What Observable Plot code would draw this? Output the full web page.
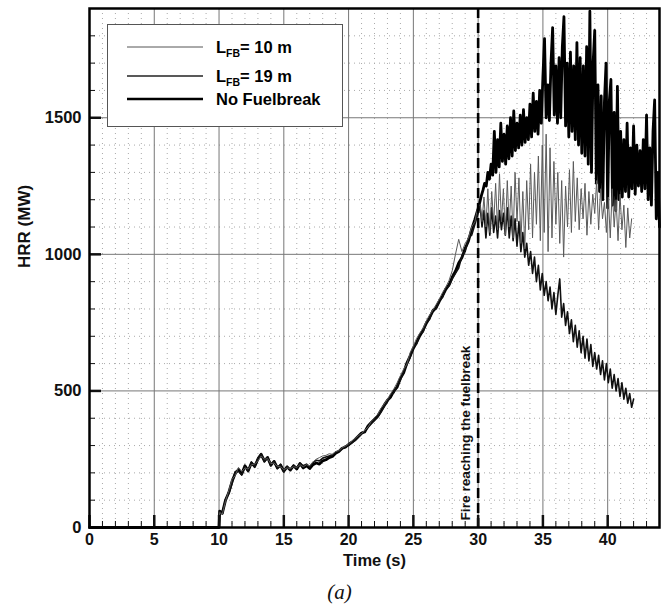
<!DOCTYPE html>
<html>
<head>
<meta charset="utf-8">
<script src="https://cdn.jsdelivr.net/npm/d3@7"></script>
<script src="https://cdn.jsdelivr.net/npm/@observablehq/plot@0.6"></script>
<style>
  body { margin: 0; background: white; }
  #wrap { position: relative; width: 671px; }
  #legend { position: absolute; left: 107px; top: 24px; }
  #caption { width: 671px; text-align: center; font-family: "Liberation Serif", "Times New Roman", serif; font-style: italic; font-size: 21px; line-height: 34px; color: #111; transform: translateX(4px); }
</style>
</head>
<body>
<div id="wrap">
  <div id="chart"></div>
  <svg id="legend" width="237" height="104" font-family="Liberation Sans, Arial, sans-serif" font-weight="bold" font-size="16.5">
    <rect x="0.5" y="0.5" width="235" height="102" fill="white" stroke="#555" stroke-width="1"></rect>
    <line x1="20" x2="96" y1="23" y2="23" stroke="#555" stroke-width="1"></line>
    <line x1="20" x2="96" y1="52" y2="52" stroke="#222" stroke-width="1.3"></line>
    <line x1="20" x2="96" y1="75" y2="75" stroke="#000" stroke-width="2.6"></line>
    <text x="109" y="29"><tspan>L</tspan><tspan font-size="10.5" dy="4">FB</tspan><tspan dy="-4">= 10 m</tspan></text>
    <text x="109" y="58"><tspan>L</tspan><tspan font-size="10.5" dy="4">FB</tspan><tspan dy="-4">= 19 m</tspan></text>
    <text x="109" y="81">No Fuelbreak</text>
  </svg>
</div>
<div id="caption">(a)</div>
<script>
// ---------- data ----------
const xTicks = [0, 5, 10, 15, 20, 25, 30, 35, 40];
const xMinor = [1,2,3,4,6,7,8,9,11,12,13,14,16,17,18,19,21,22,23,24,26,27,28,29,31,32,33,34,36,37,38,39,41,42,43];
const yTicks = [0, 500, 1000, 1500];
const yMinor = [100,200,300,400,600,700,800,900,1100,1200,1300,1400,1600,1700,1800];
const xLabel = "Time (s)";
const yLabel = "HRR (MW)";
const fuelbreakTime = [30];
const fuelbreakText = "Fire reaching the fuelbreak";

// common time base before the fire reaches the fuelbreak
const timePre = [0, 10, 10.05,
  10.25, 10.5, 10.75, 11, 11.25, 11.5, 11.75, 12,
  12.25, 12.5, 12.75, 13, 13.25, 13.5, 13.75, 14,
  14.25, 14.5, 14.75, 15, 15.25, 15.5, 15.75, 16,
  16.25, 16.5, 16.75, 17, 17.25, 17.5, 17.75, 18,
  18.25, 18.5, 18.75, 19, 19.25, 19.5, 19.75, 20,
  20.25, 20.5, 20.75, 21, 21.25, 21.5, 21.75, 22,
  22.25, 22.5, 22.75, 23, 23.25, 23.5, 23.75, 24,
  24.25, 24.5, 24.75, 25, 25.25, 25.5, 25.75, 26,
  26.25, 26.5, 26.75, 27, 27.25, 27.5, 27.75, 28,
  28.25, 28.5, 28.75, 29, 29.25, 29.5, 29.75, 30];

const hrrNoPre = [0, 0, 60,
  52, 100, 128, 168, 198, 212, 196, 226,
  208, 236, 224, 250, 268, 244, 256, 228,
  242, 218, 228, 206, 222, 210, 226, 214,
  234, 218, 226, 216, 230, 236, 232, 244,
  248, 256, 260, 272, 278, 290, 294, 304,
  312, 322, 334, 346, 350, 372, 384, 396,
  408, 428, 448, 466, 478, 500, 514, 546,
  566, 602, 628, 656, 678, 702, 722, 748,
  768, 792, 804, 828, 848, 872, 888, 916,
  938, 968, 988, 1022, 1048, 1092, 1128, 1168];

const hrr10Pre = [0, 0, 55,
  48, 96, 135, 176, 190, 220, 205, 218,
  214, 230, 232, 244, 262, 250, 252, 234,
  236, 224, 222, 212, 218, 216, 222, 220,
  230, 222, 230, 226, 240, 250, 256, 262,
  264, 270, 268, 278, 282, 292, 298, 306,
  316, 326, 336, 344, 356, 368, 388, 402,
  414, 436, 452, 470, 490, 508, 530, 556,
  580, 598, 640, 664, 692, 712, 730, 756,
  778, 796, 816, 836, 860, 880, 904, 940,
  1000, 1055, 1010, 1040, 1060, 1100, 1120, 1180];

const hrr19Pre = [0, 0, 58,
  50, 104, 124, 160, 205, 206, 192, 222,
  204, 240, 220, 255, 270, 240, 258, 226,
  244, 216, 232, 204, 224, 212, 228, 218,
  236, 226, 232, 222, 238, 246, 244, 254,
  258, 262, 266, 276, 280, 288, 296, 300,
  310, 318, 330, 342, 352, 366, 380, 392,
  404, 422, 442, 460, 486, 494, 520, 540,
  572, 596, 622, 660, 672, 708, 716, 752,
  762, 798, 800, 832, 842, 878, 884, 910,
  930, 950, 995, 1010, 1060, 1070, 1110, 1150];

// after the fuelbreak: No Fuelbreak
const timeNoPost = [30.125, 30.25, 30.375, 30.5, 30.625, 30.75, 30.875, 31,
  31.125, 31.25, 31.375, 31.5, 31.625, 31.75, 31.875, 32,
  32.125, 32.25, 32.375, 32.5, 32.625, 32.75, 32.875, 33,
  33.125, 33.25, 33.375, 33.5, 33.625, 33.75, 33.875, 34,
  34.125, 34.25, 34.375, 34.5, 34.625, 34.75, 34.875, 35,
  35.125, 35.25, 35.375, 35.5, 35.625, 35.75, 35.875, 36,
  36.125, 36.25, 36.375, 36.5, 36.625, 36.75, 36.875, 37,
  37.125, 37.25, 37.375, 37.5, 37.625, 37.75, 37.875, 38,
  38.125, 38.25, 38.375, 38.5, 38.625, 38.75, 38.875, 39,
  39.125, 39.25, 39.375, 39.5, 39.625, 39.75, 39.875, 40,
  40.125, 40.25, 40.375, 40.5, 40.625, 40.75, 40.875, 41,
  41.125, 41.25, 41.375, 41.5, 41.625, 41.75, 41.875, 42,
  42.125, 42.25, 42.375, 42.5, 42.625, 42.75, 42.875, 43,
  43.125, 43.25, 43.375, 43.5, 43.625, 43.75, 43.875, 44];
const hrrNoPost = [1190, 1215, 1235, 1260, 1250, 1300, 1275, 1330,
  1290, 1450, 1300, 1420, 1320, 1480, 1340, 1440,
  1330, 1470, 1350, 1500, 1360, 1525, 1380, 1480,
  1390, 1510, 1400, 1530, 1410, 1500, 1420, 1550,
  1430, 1590, 1450, 1560, 1440, 1600, 1480, 1650,
  1790, 1500, 1620, 1490, 1700, 1830, 1510, 1690,
  1480, 1720, 1500, 1760, 1870, 1470, 1700, 1430,
  1740, 1450, 1690, 1420, 1775, 1400, 1720, 1370,
  1690, 1360, 1760, 1330, 1890, 1300, 1700, 1820,
  1260, 1620, 1230, 1580, 1200, 1560, 1700, 1170,
  1560, 1640, 1180, 1520, 1160, 1615, 1200, 1450,
  1210, 1420, 1230, 1480, 1210, 1390, 1240, 1470,
  1220, 1400, 1250, 1380, 1230, 1420, 1240, 1510,
  1200, 1390, 1180, 1450, 1565, 1130, 1300, 1100];

// after the fuelbreak: L_FB = 10 m
const time10Post = [30.15, 30.3, 30.45, 30.6, 30.75, 30.9, 31.05, 31.2,
  31.35, 31.5, 31.65, 31.8, 31.95, 32.1, 32.25, 32.4,
  32.55, 32.7, 32.85, 33, 33.15, 33.3, 33.45, 33.6,
  33.75, 33.9, 34.05, 34.2, 34.35, 34.5, 34.65, 34.8,
  34.95, 35.1, 35.25, 35.4, 35.55, 35.7, 35.85, 36,
  36.15, 36.3, 36.45, 36.6, 36.75, 36.9, 37.05, 37.2,
  37.35, 37.5, 37.65, 37.8, 37.95, 38.1, 38.25, 38.4,
  38.55, 38.7, 38.85, 39, 39.15, 39.3, 39.45, 39.6,
  39.75, 39.9, 40.05, 40.2, 40.35, 40.5, 40.65, 40.8,
  40.95, 41.1, 41.25, 41.4, 41.55, 41.7, 41.85];
const hrr10Post = [1180, 1120, 1210, 1100, 1240, 1080, 1230, 1110,
  1260, 1090, 1295, 1120, 1240, 1070, 1270, 1100,
  1250, 1060, 1300, 1120, 1280, 1040, 1230, 1020,
  1270, 1090, 1330, 1060, 1300, 1110, 1360, 1050,
  1400, 1080, 1440, 1010, 1390, 1060, 1340, 1110,
  1300, 1040, 1270, 990, 1250, 1100, 1310, 1080,
  1340, 1120, 1280, 1090, 1240, 1130, 1260, 1070,
  1230, 1110, 1220, 1150, 1270, 1090, 1240, 1130,
  1190, 1080, 1210, 1060, 1240, 1100, 1200, 1050,
  1220, 1090, 1180, 1025, 1170, 1060, 1130];

// after the fuelbreak: L_FB = 19 m
const time19Post = [30.15, 30.3, 30.45, 30.6, 30.75, 30.9, 31.05, 31.2,
  31.35, 31.5, 31.65, 31.8, 31.95, 32.1, 32.25, 32.4,
  32.55, 32.7, 32.85, 33, 33.15, 33.3, 33.45, 33.6,
  33.75, 33.9, 34.05, 34.2, 34.35, 34.5, 34.65, 34.8,
  34.95, 35.1, 35.25, 35.4, 35.55, 35.7, 35.85, 36,
  36.15, 36.3, 36.45, 36.6, 36.75, 36.9, 37.05, 37.2,
  37.35, 37.5, 37.65, 37.8, 37.95, 38.1, 38.25, 38.4,
  38.55, 38.7, 38.85, 39, 39.15, 39.3, 39.45, 39.6,
  39.75, 39.9, 40.05, 40.2, 40.35, 40.5, 40.65, 40.8,
  40.95, 41.1, 41.25, 41.4, 41.55, 41.7, 41.85, 42];
const hrr19Post = [1180, 1100, 1160, 1060, 1150, 1070, 1170, 1080,
  1140, 1060, 1160, 1090, 1150, 1070, 1170, 1060,
  1140, 1050, 1130, 1030, 1120, 1010, 1080, 990,
  1040, 960, 1010, 930, 990, 900, 960, 870,
  930, 850, 900, 830, 880, 800, 860, 780,
  850, 910, 770, 820, 740, 790, 710, 760,
  680, 740, 660, 720, 640, 700, 620, 690,
  610, 670, 590, 640, 580, 630, 560, 610,
  540, 600, 530, 580, 510, 560, 500, 545,
  480, 530, 470, 510, 455, 490, 440, 470];

// ---------- build tables ----------
function table(ts, vs) { return ts.map((t, i) => ({t, v: vs[i]})); }
const data10 = table(timePre.concat(time10Post), hrr10Pre.concat(hrr10Post));
const data19 = table(timePre.concat(time19Post), hrr19Pre.concat(hrr19Post));
const dataNo = table(timePre.concat(timeNoPost), hrrNoPre.concat(hrrNoPost));

const font = "Liberation Sans, Arial, sans-serif";

const chart = Plot.plot({
  width: 671,
  height: 575,
  marginLeft: 89,
  marginRight: 12,
  marginTop: 8,
  marginBottom: 48,
  x: {domain: [0, 44], label: null},
  y: {domain: [0, 1900], label: null},
  style: {fontFamily: font, fontSize: "16px", fontWeight: "bold", color: "#111", background: "white", overflow: "visible"},
  marks: [
    Plot.gridX(xMinor, {stroke: "#aaa", strokeOpacity: 1, strokeDasharray: "1,4"}),
    Plot.gridY(yMinor, {stroke: "#aaa", strokeOpacity: 1, strokeDasharray: "1,4"}),
    Plot.gridX(xTicks, {stroke: "#777", strokeOpacity: 1, strokeWidth: 1}),
    Plot.gridY(yTicks, {stroke: "#777", strokeOpacity: 1, strokeWidth: 1}),
    Plot.line(dataNo, {x: "t", y: "v", stroke: "#000", strokeWidth: 2.8}),
    Plot.line(data19, {x: "t", y: "v", stroke: "#111", strokeWidth: 1.6}),
    Plot.line(data10, {x: "t", y: "v", stroke: "#5a5a5a", strokeWidth: 1}),
    Plot.ruleX(fuelbreakTime, {stroke: "#000", strokeWidth: 2.6, strokeDasharray: "10,5"}),
    Plot.text(fuelbreakTime, {x: d => d, frameAnchor: "bottom", text: () => fuelbreakText, rotate: -90, textAnchor: "start", lineAnchor: "middle", dx: -13, dy: -7, fontSize: 13.7, fontWeight: "bold", fill: "#111"}),
    Plot.axisX(xMinor, {tickSize: -6, strokeWidth: 1, tickFormat: () => "", label: null}),
    Plot.axisX(xTicks, {tickSize: -12, strokeWidth: 2.5, tickFormat: () => "", label: null}),
    Plot.axisX(xTicks, {tickSize: 0, tickPadding: 6, label: null, fontSize: 16, fontWeight: "bold", tickFormat: d => String(d)}),
    Plot.axisY(yMinor, {tickSize: -6, strokeWidth: 1, tickFormat: () => "", label: null}),
    Plot.axisY(yTicks, {tickSize: -12, strokeWidth: 2.5, tickFormat: () => "", label: null}),
    Plot.axisY(yTicks, {tickSize: 0, tickPadding: 8, label: null, fontSize: 16.5, fontWeight: "bold", tickFormat: d => String(d)}),
    Plot.text([xLabel], {frameAnchor: "bottom", text: d => d, dy: 33, lineAnchor: "middle", fontSize: 16.5, fontWeight: "bold"}),
    Plot.text([yLabel], {frameAnchor: "left", text: d => d, rotate: -90, dx: -65, lineAnchor: "middle", fontSize: 17, fontWeight: "bold"}),
    Plot.frame({stroke: "#000", strokeWidth: 2.5})
  ]
});
document.getElementById("chart").appendChild(chart);
</script>
</body>
</html>
